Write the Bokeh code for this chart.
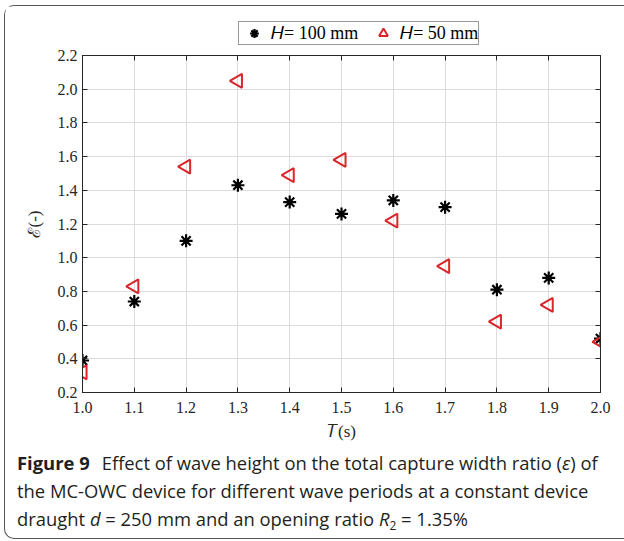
import math
from bokeh.plotting import figure
from bokeh.layouts import column
from bokeh.models import Range1d, LinearAxis, Legend, LegendItem, FixedTicker, Div
from bokeh.embed import file_html
from bokeh.resources import INLINE

T = [1.0, 1.1, 1.2, 1.3, 1.4, 1.5, 1.6, 1.7, 1.8, 1.9, 2.0]
eps_H100 = [0.39, 0.74, 1.10, 1.43, 1.33, 1.26, 1.34, 1.30, 0.81, 0.88, 0.52]
eps_H50 = [0.32, 0.83, 1.54, 2.05, 1.49, 1.58, 1.22, 0.95, 0.62, 0.72, 0.50]
x_ticks = [1.0, 1.1, 1.2, 1.3, 1.4, 1.5, 1.6, 1.7, 1.8, 1.9, 2.0]
y_ticks = [0.2, 0.4, 0.6, 0.8, 1.0, 1.2, 1.4, 1.6, 1.8, 2.0, 2.2]
legend_labels = ["𝐻= 100 mm", "𝐻= 50 mm"]
caption_html = (
    "<b style='margin-right:12px'>Figure 9</b>Effect of wave height on the total capture width ratio (<i>ε</i>) of<br>"
    "the MC-OWC device for different wave periods at a constant device<br>"
    "draught <i>d</i> = 250 mm and an opening ratio <i>R</i>"
    "<sub style='font-size:12px;line-height:0;vertical-align:-4px'>2</sub> = 1.35%"
)

SERIF = "Liberation Serif"
AX = "#262626"
STAR = dict(marker="asterisk", size=13, line_color="black", line_width=2.2)
TRI = dict(marker="triangle", size=14, angle=math.pi / 2,
           line_color="#d9262b", fill_color=None, line_width=2)

# page geometry (outer rounded frame starts at x=4, y=5 with a 1px border)
OX, OY = 5, 6
W = 624 - OX
TOP_H = 45 - OY
MAIN_TOP, MAIN_BOT = 45, 449
CAP_H = 538 - MAIN_BOT
FL = 82 - OX

# --- legend strip above the axes ---
top = figure(width=W, height=TOP_H, output_backend="svg", toolbar_location=None,
             x_axis_type=None, y_axis_type=None, x_range=Range1d(0, 1), y_range=Range1d(0, 1),
             min_border=0, min_border_left=FL, min_border_right=24, min_border_top=0, min_border_bottom=0,
             outline_line_color=None, background_fill_color="white", border_fill_color="white")
top.grid.visible = False
l1 = top.scatter(T, eps_H100, visible=False, **STAR)
l2 = top.scatter(T, eps_H50, visible=False, **TRI)
legend = Legend(items=[LegendItem(label=legend_labels[0], renderers=[l1]),
                       LegendItem(label=legend_labels[1], renderers=[l2])],
                orientation="horizontal", location=(238 - 82, 0),
                label_text_font=SERIF, label_text_font_size="18px", label_text_color="black",
                border_line_color="#333333", border_line_width=1, background_fill_color="white",
                padding=0, spacing=10, margin=0, glyph_width=30, glyph_height=22,
                label_standoff=2, label_height=18)
top.add_layout(legend, "center")

# --- main axes ---
p = figure(width=W, height=MAIN_BOT - MAIN_TOP, output_backend="svg", toolbar_location=None,
           x_range=Range1d(1.0, 2.0), y_range=Range1d(0.2, 2.2),
           min_border_left=FL, min_border_right=24, min_border_top=55 - MAIN_TOP,
           min_border_bottom=MAIN_BOT - 392,
           background_fill_color="white", border_fill_color="white")
p.outline_line_color = AX
p.outline_line_width = 1

for ax in [p.xaxis[0], p.yaxis[0]]:
    ax.major_tick_in = 5
    ax.major_tick_out = 0
    ax.minor_tick_line_color = None
    ax.axis_line_color = AX
    ax.major_tick_line_color = AX
    ax.major_label_text_font = SERIF
    ax.major_label_text_font_size = "16px"
    ax.major_label_text_color = AX
    ax.axis_label_text_font = SERIF
    ax.axis_label_text_font_size = "17px"
    ax.axis_label_text_font_style = "normal"
    ax.axis_label_text_color = AX

p.xaxis[0].ticker = FixedTicker(ticks=x_ticks)
p.yaxis[0].ticker = FixedTicker(ticks=y_ticks)
p.xaxis[0].axis_label = "𝑇(s)"
p.yaxis[0].axis_label = "ℰ(-)"
p.xaxis[0].major_label_standoff = 9
p.xaxis[0].axis_label_standoff = 6
p.yaxis[0].major_label_standoff = 5
p.yaxis[0].axis_label_standoff = 11
p.yaxis[0].major_label_overrides = {v: f"{v:.1f}" for v in y_ticks}
p.xaxis[0].major_label_overrides = {v: f"{v:.1f}" for v in x_ticks}

for loc, tick in [("above", x_ticks), ("right", y_ticks)]:
    a = LinearAxis(ticker=FixedTicker(ticks=tick), major_tick_in=5, major_tick_out=0,
                   minor_tick_line_color=None, axis_line_color=AX, major_tick_line_color=AX,
                   major_label_overrides={v: "" for v in tick}, major_label_standoff=0)
    p.add_layout(a, loc)

p.grid.grid_line_color = "#dcdcdc"
p.xgrid.ticker = FixedTicker(ticks=x_ticks)
p.ygrid.ticker = FixedTicker(ticks=y_ticks)

p.scatter(T, eps_H100, **STAR)
p.scatter(T, eps_H50, **TRI)

cap = Div(text=(f"<div style=\"font-family:'Open Sans';font-size:18.4px;line-height:28px;"
                f"color:#231f20;white-space:nowrap;padding-left:{17 - OX}px;\">{caption_html}</div>"),
          width=W, height=CAP_H, margin=0)

layout = column(top, p, cap, spacing=0, margin=(OY - 1, 0, 0, OX - 1),
                styles={"border-top": "1px solid #555", "border-left": "1px solid #555",
                        "border-bottom": "1px solid #555", "border-radius": "10px 0 0 10px",
                        "background": "white"})
open("out.html", "w").write(file_html(layout, INLINE))
